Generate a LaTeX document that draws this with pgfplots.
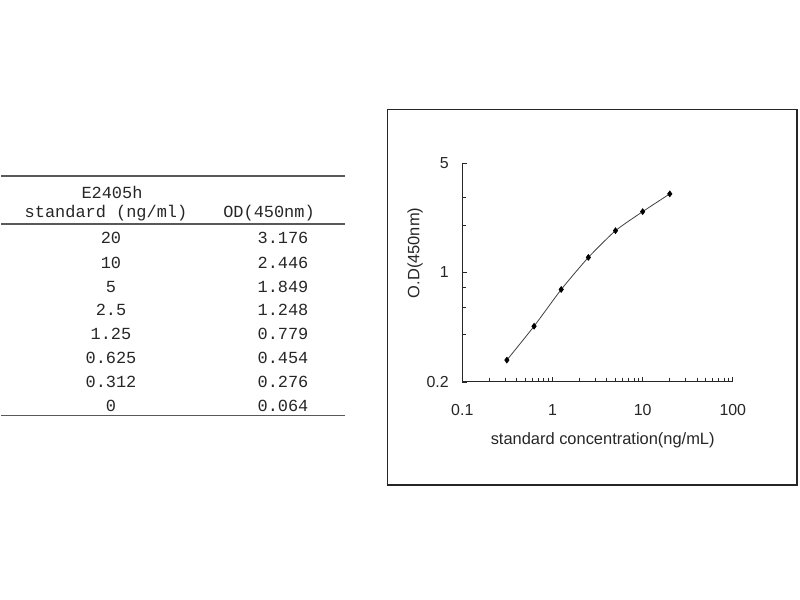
\documentclass[border=0pt]{standalone}
\usepackage{pgfplots}
\pgfplotsset{compat=1.18}
\usepackage{fontspec}
\setmainfont{Liberation Sans}
\newfontfamily\tabfont{Liberation Mono}
\begin{document}
\begin{tikzpicture}
\begin{scope}[x=1bp,y=1bp]
\path[use as bounding box] (0,0) rectangle (800,600);
% chart frame
\draw[line width=1.6bp, black!85] (387.5,490.3) rectangle (797,115);
% table
\begin{scope}[font=\tabfont\fontsize{17}{19}\selectfont, text=black!85]
\draw[line width=1.3bp, black!65] (1,424) -- (345,424);
\draw[line width=1.3bp, black!65] (1,376) -- (345,376);
\draw[line width=1.3bp, black!65] (1,184.3) -- (345,184.3);
\node at (112,408) {E2405h};
\node at (106,387) {standard (ng/ml)};
\node at (269,387) {OD(450nm)};
\foreach \a/\b/\y in {20/3.176/238, 10/2.446/263, 5/1.849/287, 2.5/1.248/310, 1.25/0.779/334, 0.625/0.454/358, 0.312/0.276/382, 0/0.064/406}{
  \node at (111,600-\y) {\a};
  \node at (283,600-\y) {\b};
}
\end{scope}
\end{scope}
\begin{axis}[
  at={(462.3bp,218bp)}, anchor=south west,
  scale only axis, width=270.5bp, height=219bp,
  xmode=log, ymode=log,
  xmin=0.1, xmax=100, ymin=0.2, ymax=5,
  axis lines=left, axis line style={-, line width=1bp, black!85},
  tick align=inside,
  major tick length=5bp, minor tick length=4bp,
  tick style={line width=0.8bp, black!85},
  xtick={0.1,1,10,100}, xticklabels={0.1,1,10,100},
  minor xtick={0.2,0.3,0.4,0.5,0.6,0.7,0.8,0.9,2,3,4,5,6,7,8,9,20,30,40,50,60,70,80,90},
  ytick={0.2,1,5}, yticklabels={0.2,1,5},
  minor ytick={0.4,0.6,0.8,2,3},
  tick label style={font=\fontsize{16}{18}\selectfont, text=black!85},
  xticklabel style={yshift=-19bp},
  yticklabel style={xshift=-10bp},
  xlabel={standard concentration(ng/mL)},
  ylabel={O.D(450nm)},
  label style={font=\fontsize{16.5}{18}\selectfont, text=black!85},
  xlabel style={at={(axis description cs:0.519,-0.265)}, anchor=center},
  ylabel style={at={(axis description cs:-0.174,0.589)}, anchor=center, rotate=0},
  clip=false,
]
\addplot[black!75, line width=0.8bp, smooth, tension=0.35, mark=diamond*, mark size=2.8bp, mark options={black, solid}]
  coordinates {(0.312,0.276) (0.625,0.454) (1.25,0.779) (2.5,1.248) (5,1.849) (10,2.446) (20,3.176)};
\end{axis}
\end{tikzpicture}
\end{document}
